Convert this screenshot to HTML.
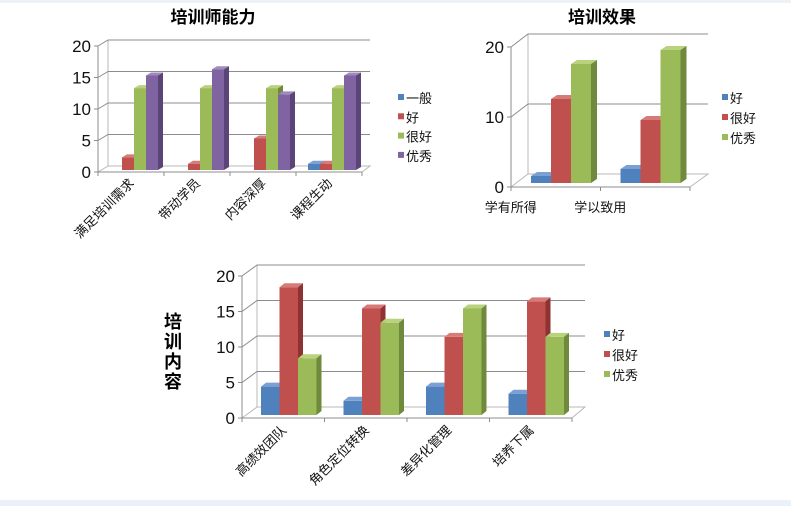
<!DOCTYPE html>
<html><head><meta charset="utf-8"><style>
html,body{margin:0;padding:0;background:#fff;}
svg{display:block;font-family:"Liberation Sans","Noto Sans CJK SC",sans-serif;}
</style></head><body>
<svg id="s" width="791" height="506" viewBox="0 0 791 506" xmlns="http://www.w3.org/2000/svg">
<rect x="0" y="0" width="791" height="3" fill="#eef1f5"/>
<rect x="0" y="500" width="791" height="6" fill="#eaf1f8"/>
</svg>
<script>
// Chart 1: 培训师能力
const c1Categories = ["满足培训需求","带动学员","内容深厚","课程生动"];
const c1Series = ["一般","好","很好","优秀"];
const c1General = [0,0,0,1];
const c1Good = [2,1,5,1];
const c1VeryGood = [13,13,13,13];
const c1Excellent = [15,16,12,15];
const c1Ticks = [0,5,10,15,20];
// Chart 2: 培训效果
const c2Categories = ["学有所得","学以致用"];
const c2Series = ["好","很好","优秀"];
const c2Good = [1,2];
const c2VeryGood = [12,9];
const c2Excellent = [17,19];
const c2Ticks = [0,10,20];
// Chart 3: 培训内容
const c3Categories = ["高绩效团队","角色定位转换","差异化管理","培养下属"];
const c3Series = ["好","很好","优秀"];
const c3Good = [4,2,4,3];
const c3VeryGood = [18,15,11,16];
const c3Excellent = [8,13,15,11];
const c3Ticks = [0,5,10,15,20];

const NS="http://www.w3.org/2000/svg";
const svg=document.getElementById('s');
const COLORS=[["#4f81bd","#7ba0d4","#38618f"],["#c0504d","#d67b78","#8e3331"],["#9bbb59","#b8d27e","#6f8a3c"],["#8064a2","#a089be","#5b4578"]];
function el(tag,attrs,parent){const e=document.createElementNS(NS,tag);for(const k in attrs)e.setAttribute(k,attrs[k]);(parent||svg).appendChild(e);return e;}

function drawChart(cfg,cats,seriesNames,seriesVals,ticks){
  const g=el('g',{});
  
  
  const maxV=ticks[ticks.length-1];
  const y=v=>cfg.y0-(cfg.y0-cfg.yTop)*v/maxV;
  const ox=cfg.ox, oy=cfg.oy;
  // walls
  el('polyline',{points:`${cfg.ax},${cfg.y0} ${cfg.ax+ox},${cfg.y0-oy} ${cfg.backR},${cfg.y0-oy} ${cfg.frontR},${cfg.y0}`,fill:'none',stroke:'#b8b8b8','stroke-width':1},g);
  el('line',{x1:cfg.ax+ox,y1:cfg.y0-oy,x2:cfg.ax+ox,y2:y(maxV)-oy,stroke:'#b8b8b8'},g);
  ticks.forEach(t=>{
    const yy=y(t);
    if(t>0){
      const gl=el('polyline',{points:`${cfg.ax},${yy} ${cfg.ax+ox},${yy-oy} ${cfg.backR},${yy-oy}`,fill:'none',stroke:'#8c8c8c','stroke-width':1},g);
      
      
    }
    el('line',{x1:cfg.ax-4,y1:yy,x2:cfg.ax,y2:yy,stroke:'#8c8c8c'},g);
    const tx=el('text',{x:cfg.ax-7,y:yy+6,'text-anchor':'end','font-size':cfg.tickFs,fill:'#111'},g);
    tx.textContent=t;
    
    
  });
  el('line',{x1:cfg.ax,y1:cfg.y0,x2:cfg.ax,y2:y(maxV),stroke:'#8c8c8c'},g);
  el('line',{x1:cfg.ax,y1:cfg.y0,x2:cfg.frontR,y2:cfg.y0,stroke:'#8c8c8c'},g);
  const cw=(cfg.frontR-cfg.ax)/cats.length;
  for(let i=0;i<=cats.length;i++){el('line',{x1:cfg.ax+i*cw,y1:cfg.y0,x2:cfg.ax+i*cw,y2:cfg.y0+4,stroke:'#8c8c8c'},g);}
  const base=cfg.barBase, s=(cfg.y0-cfg.yTop)/maxV;
  cats.forEach((c,i)=>{
    seriesVals.forEach((vals,j)=>{
      const v=vals[i]; if(v<=0) return;
      const col=COLORS[cfg.colorOffset+j];
      const x=cfg.ax+i*cw+cfg.barStart+j*cfg.bw, w=cfg.bw, h=v*s, top=base-h, dx=cfg.bdx, dy=cfg.bdy;
      const bg=el('g',{},g);
      
      
      el('rect',{x:x,y:top,width:w,height:h,fill:col[0]},bg);
      el('polygon',{points:`${x},${top} ${x+dx},${top-dy} ${x+w+dx},${top-dy} ${x+w},${top}`,fill:col[1]},bg);
      el('polygon',{points:`${x+w},${top} ${x+w+dx},${top-dy} ${x+w+dx},${base-dy} ${x+w},${base}`,fill:col[2]},bg);
    });
    const cx=cfg.ax+(i+0.5)*cw;
    let t;
    if(cfg.rotate){
      t=el('text',{x:cx+cfg.lx,y:cfg.y0+cfg.ly,'text-anchor':'end','font-size':13,fill:'#111',transform:`rotate(-45 ${cx+cfg.lx} ${cfg.y0+cfg.ly})`},g);
    } else {
      t=el('text',{x:cx+cfg.lx,y:cfg.y0+cfg.ly,'text-anchor':'middle','font-size':13,fill:'#111'},g);
    }
    t.textContent=c;
    
    
  });
  // legend
  seriesNames.forEach((n,j)=>{
    const ly=cfg.legY+j*cfg.legStep;
    const lg=el('g',{},g);
    
    
    el('rect',{x:cfg.legX,y:ly-4,width:6,height:6,fill:COLORS[cfg.colorOffset+j][0]},lg);
    const lt=el('text',{x:cfg.legX+8,y:ly+5,'font-size':13,fill:'#111'},lg);
    lt.textContent=n;
  });
  if(cfg.title){
    const tt=el('text',{x:cfg.titleX,y:cfg.titleY,'text-anchor':'middle','font-size':17,'font-weight':'bold',fill:'#000'},g);
    tt.textContent=cfg.title;
    
    
  }
  return g;
}

drawChart({name:'trainer-ability-chart',ax:98,y0:172,yTop:46,ox:10,oy:6,backR:370,frontR:362,barBase:170,barStart:12,bw:12,bdx:5,bdy:3,colorOffset:0,rotate:true,lx:4,ly:12,tickFs:17,legX:398,legY:98,legStep:19.3,title:'培训师能力',titleX:213,titleY:23},
  c1Categories,c1Series,[c1General,c1Good,c1VeryGood,c1Excellent],c1Ticks);
drawChart({name:'training-effect-chart',ax:511,y0:187,yTop:47,ox:17,oy:13,backR:708,frontR:690,barBase:183,barStart:20,bw:20,bdx:6,bdy:4,colorOffset:0,rotate:false,lx:-45+0,ly:25,tickFs:17,legX:722,legY:98,legStep:20,title:'培训效果',titleX:602,titleY:23},
  c2Categories,c2Series,[c2Good,c2VeryGood,c2Excellent],c2Ticks);
drawChart({name:'training-content-chart',ax:242,y0:418,yTop:276,ox:15,oy:11,backR:585,frontR:572,barBase:415,barStart:19,bw:18.5,bdx:5,bdy:4,colorOffset:0,rotate:true,lx:4,ly:13,tickFs:17,legX:604,legY:335,legStep:20,title:null},
  c3Categories,c3Series,[c3Good,c3VeryGood,c3Excellent],c3Ticks);

const yt=el('text',{x:173,y:0,'text-anchor':'middle','font-size':18,'font-weight':'bold',fill:'#000'});


["培","训","内","容"].forEach((ch,i)=>{const ts=el('tspan',{x:173,y:328+i*20},yt);ts.textContent=ch;});
</script>
</body></html>
